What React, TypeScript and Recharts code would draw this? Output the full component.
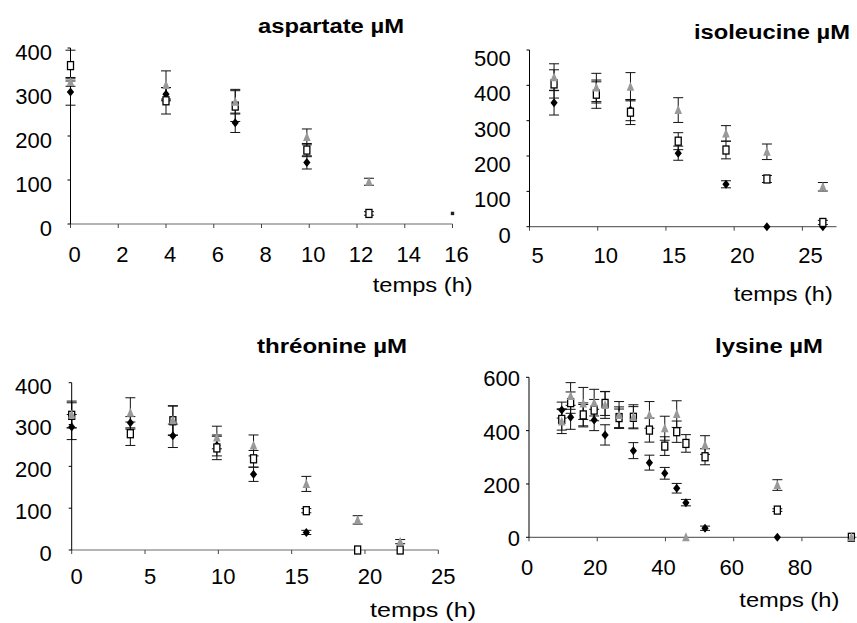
import React from 'react';
import { ScatterChart, Scatter, XAxis, YAxis, ErrorBar } from 'recharts';

const FONT = '"Liberation Sans", Arial, Helvetica, sans-serif';
const TICK_FS = 22;
const GRAY = '#999999';
const XAXIS_COLOR = '#6a6a6a';

// ---------- aspartate ----------
const aspTimes = [0, 4, 6.9, 9.9, 12.5];
const aspDiamond = [300, 295, 230, 140, null];
const aspDiamondErr = [30, 15, 22, 15, 0];
const aspSquare = [360, 280, 268, 168, 24];
const aspSquareErr = [35, 30, 35, 15, 4];
const aspTriangle = [323, 316, 278, 198, 96];
const aspTriangleErr = [10, 32, 28, 18, 8];
const aspDotTimes = [16];
const aspDot = [24];
const aspXTicks = [0, 2, 4, 6, 8, 10, 12, 14, 16];
const aspYTicks = [0, 100, 200, 300, 400];

// ---------- isoleucine ----------
const ileTimes = [6.8, 9.9, 12.4, 15.9, 19.4, 22.4, 26.5];
const ileDiamond = [351, 380, 330, 208, 120, 0, 0];
const ileDiamondErr = [35, 30, 30, 20, 10, 0, 0];
const ileSquare = [404, 375, 324, 242, 217, 135, 12];
const ileSquareErr = [40, 40, 35, 24, 25, 10, 6];
const ileTriangle = [423, 394, 396, 330, 264, 212, 113];
const ileTriangleErr = [38, 40, 40, 35, 22, 22, 12];
const ileXTicks = [5, 10, 15, 20, 25];
const ileYTicks = [0, 100, 200, 300, 400, 500];

// ---------- thréonine ----------
const thrTimes = [0, 4, 6.9, 9.9, 12.4, 16, 19.5, 22.4];
const thrDiamond = [294, 304, 273, 250, 181, 42, null, null];
const thrDiamondErr = [30, 15, 28, 25, 17, 5, 0, 0];
const thrSquare = [322, 278, 309, 244, 218, 94, 0, 0];
const thrSquareErr = [30, 28, 35, 28, 20, 5, 0, 0];
const thrTriangle = [324, 328, 310, 269, 250, 158, 72, 20];
const thrTriangleErr = [32, 36, 35, 27, 25, 18, 10, 5];
const thrXTicks = [0, 5, 10, 15, 20, 25];
const thrYTicks = [0, 100, 200, 300, 400];

// ---------- lysine ----------
const lysTimes = [9.6, 12.2, 15.9, 19.1, 22.3, 26.4, 30.6, 35.3, 39.8, 43.3, 46, 51.6, 72.8, 94.5];
const lysDiamond = [477, 450, 458, 440, 384, 446, 325, 280, 240, 184, 130, 34, 0, 0];
const lysDiamondErr = [30, 45, 40, 40, 38, 35, 30, 28, 22, 18, 12, 8, 0, 0];
const lysSquare = [442, 505, 459, 477, 502, 449, 450, 402, 342, 396, 352, 302, 102, 0];
const lysSquareErr = [40, 40, 45, 40, 45, 40, 40, 45, 35, 40, 33, 30, 5, 0];
const lysTriangle = [434, 530, 502, 505, 496, 459, 452, 459, 409, 462, 0, 346, 196, 0];
const lysTriangleErr = [45, 50, 60, 50, 50, 50, 45, 50, 45, 50, 0, 35, 20, 0];
const lysXTicks = [0, 20, 40, 60, 80];
const lysYTicks = [0, 200, 400, 600];

type Pt = { x: number; y: number; err: number };
const build = (t: number[], v: (number | null)[], e?: number[]): Pt[] =>
  t
    .map((x, i) => ({ x, y: v[i] as number, err: e ? e[i] : 0 }))
    .filter((d) => d.y !== null && d.y !== undefined);

const Diamond = (p: any) => {
  const { cx, cy } = p;
  if (cx == null || cy == null) return null;
  return <path d={`M${cx},${cy - 4.5}L${cx + 3.6},${cy}L${cx},${cy + 4.5}L${cx - 3.6},${cy}Z`} fill="#000" />;
};
const OpenSquare = (p: any) => {
  const { cx, cy } = p;
  if (cx == null || cy == null) return null;
  return <rect x={cx - 3} y={cy - 4} width={6} height={8} fill="#fff" stroke="#000" strokeWidth={1.3} />;
};
const Triangle = (p: any) => {
  const { cx, cy } = p;
  if (cx == null || cy == null) return null;
  return <path d={`M${cx},${cy - 5}L${cx + 3.8},${cy + 4}L${cx - 3.8},${cy + 4}Z`} fill={GRAY} />;
};
const Dot = (p: any) => {
  const { cx, cy } = p;
  if (cx == null || cy == null) return null;
  return <rect x={cx - 1.7} y={cy - 1.7} width={3.4} height={3.4} fill="#222" />;
};

type PanelCfg = {
  box: { left: number; top: number; width: number; height: number };
  plotLeft: number;
  plotRight: number;
  plotTop: number;
  plotBottom: number;
  xDomain: [number, number];
  xTicks: number[];
  yDomain: [number, number];
  yTicks: number[];
  yGap: number;
  yDy: number;
  xLabelTop: number;
  xDx: number;
  diamond: Pt[];
  square: Pt[];
  triangle: Pt[];
  dot?: Pt[];
};

const W = 857;
const H = 623;
const XH = 20;
const XTS = 4; // x tick size
const YTS = 3; // y tick size

function Panel({ c }: { c: PanelCfg }) {
  const b = c.box;
  const pl = c.plotLeft - b.left;
  const pr = c.plotRight - b.left;
  const pt = c.plotTop - b.top;
  const pb = c.plotBottom - b.top;
  const margin = {
    top: pt,
    right: b.width - pr,
    bottom: b.height - pb - XH,
    left: 0,
  };
  const xTickMargin = c.xLabelTop - c.plotBottom - XTS;
  const XTick = (p: any) => (
    <text
      x={p.x + c.xDx}
      y={p.y + 0.716 * TICK_FS}
      textAnchor="middle"
      fontSize={TICK_FS}
      fontFamily={FONT}
      fill="#000"
    >
      {p.payload.value}
    </text>
  );
  const YTick = (p: any) => (
    <text
      x={p.x}
      y={p.y + c.yDy + 0.358 * TICK_FS}
      textAnchor="end"
      fontSize={TICK_FS}
      fontFamily={FONT}
      fill="#000"
    >
      {p.payload.value}
    </text>
  );
  return (
    <div style={{ position: 'absolute', left: b.left, top: b.top }}>
      <ScatterChart width={b.width} height={b.height} margin={margin}>
        <XAxis
          type="number"
          dataKey="x"
          domain={c.xDomain}
          ticks={c.xTicks}
          height={XH}
          axisLine={{ stroke: XAXIS_COLOR, strokeWidth: 1.2 }}
          tickLine={{ stroke: '#444', strokeWidth: 1 }}
          tickSize={XTS}
          tickMargin={xTickMargin}
          tick={XTick}
          interval={0}
        />
        <YAxis
          type="number"
          dataKey="y"
          domain={c.yDomain}
          ticks={c.yTicks}
          width={pl}
          axisLine={{ stroke: '#000', strokeWidth: 1 }}
          tickLine={{ stroke: '#000', strokeWidth: 1 }}
          tickSize={YTS}
          tickMargin={c.yGap}
          tick={YTick}
          interval={0}
        />
        <Scatter data={c.diamond} shape={Diamond} isAnimationActive={false}>
          <ErrorBar dataKey="err" direction="y" width={5} stroke="#111" strokeWidth={1} />
        </Scatter>
        <Scatter data={c.square} shape={OpenSquare} isAnimationActive={false}>
          <ErrorBar dataKey="err" direction="y" width={5} stroke="#111" strokeWidth={1} />
        </Scatter>
        <Scatter data={c.triangle} shape={Triangle} isAnimationActive={false}>
          <ErrorBar dataKey="err" direction="y" width={5} stroke="#111" strokeWidth={1} />
        </Scatter>
        {c.dot ? <Scatter data={c.dot} shape={Dot} isAnimationActive={false} /> : null}
      </ScatterChart>
    </div>
  );
}

const panels: PanelCfg[] = [
  {
    box: { left: 0, top: 0, width: 480, height: 310 },
    plotLeft: 70.5, plotRight: 452.5, plotTop: 48, plotBottom: 224,
    xDomain: [0, 16], xTicks: aspXTicks, yDomain: [0, 400], yTicks: aspYTicks,
    yGap: 15.5, yDy: 4, xLabelTop: 246, xDx: 4,
    diamond: build(aspTimes, aspDiamond, aspDiamondErr),
    square: build(aspTimes, aspSquare, aspSquareErr),
    triangle: build(aspTimes, aspTriangle, aspTriangleErr),
    dot: build(aspDotTimes, aspDot),
  },
  {
    box: { left: 466, top: 0, width: 391, height: 310 },
    plotLeft: 529.5, plotRight: 836.5, plotTop: 50, plotBottom: 226.7,
    xDomain: [5, 27.5], xTicks: ileXTicks, yDomain: [0, 500], yTicks: ileYTicks,
    yGap: 15.8, yDy: 8, xLabelTop: 247.5, xDx: 8,
    diamond: build(ileTimes, ileDiamond, ileDiamondErr),
    square: build(ileTimes, ileSquare, ileSquareErr),
    triangle: build(ileTimes, ileTriangle, ileTriangleErr),
  },
  {
    box: { left: 0, top: 310, width: 480, height: 313 },
    plotLeft: 71.7, plotRight: 438.3, plotTop: 382.7, plotBottom: 550,
    xDomain: [0, 25], xTicks: thrXTicks, yDomain: [0, 400], yTicks: thrYTicks,
    yGap: 17, yDy: 3, xLabelTop: 568.5, xDx: 5,
    diamond: build(thrTimes, thrDiamond, thrDiamondErr),
    square: build(thrTimes, thrSquare, thrSquareErr),
    triangle: build(thrTimes, thrTriangle, thrTriangleErr),
  },
  {
    box: { left: 466, top: 310, width: 391, height: 313 },
    plotLeft: 529, plotRight: 856.5, plotTop: 377.3, plotBottom: 537.3,
    xDomain: [0, 96], xTicks: lysXTicks, yDomain: [0, 600], yTicks: lysYTicks,
    yGap: 6, yDy: 1, xLabelTop: 559, xDx: -2,
    diamond: build(lysTimes, lysDiamond, lysDiamondErr),
    square: build(lysTimes, lysSquare, lysSquareErr),
    triangle: build(lysTimes, lysTriangle, lysTriangleErr),
  },
];

const titles = [
  { text: 'aspartate µM', cx: 331, base: 33, len: 146 },
  { text: 'isoleucine µM', cx: 772, base: 39, len: 156 },
  { text: 'thréonine µM', cx: 332, base: 353, len: 150 },
  { text: 'lysine µM', cx: 769, base: 353, len: 108 },
];
const axisTitles = [
  { text: 'temps (h)', right: 472.7, base: 291.5, len: 100 },
  { text: 'temps (h)', right: 832.7, base: 301, len: 99 },
  { text: 'temps (h)', right: 476, base: 617, len: 106 },
  { text: 'temps (h)', right: 839.3, base: 607, len: 100 },
];

export default function App() {
  return (
    <div style={{ position: 'fixed', left: 0, top: 0, width: W, height: H, background: '#fff', overflow: 'hidden' }}>
      {panels.map((c, i) => (
        <Panel key={i} c={c} />
      ))}
      <svg width={W} height={H} style={{ position: 'absolute', left: 0, top: 0, pointerEvents: 'none' }}>
        {titles.map((t, i) => (
          <text
            key={'t' + i}
            x={t.cx - t.len / 2}
            y={t.base}
            fontSize={20}
            fontWeight="bold"
            fontFamily={FONT}
            textLength={t.len}
            lengthAdjust="spacingAndGlyphs"
            fill="#000"
          >
            {t.text}
          </text>
        ))}
        {axisTitles.map((t, i) => (
          <text
            key={'a' + i}
            x={t.right - t.len}
            y={t.base}
            fontSize={21}
            fontFamily={FONT}
            textLength={t.len}
            lengthAdjust="spacingAndGlyphs"
            fill="#000"
          >
            {t.text}
          </text>
        ))}
      </svg>
    </div>
  );
}
